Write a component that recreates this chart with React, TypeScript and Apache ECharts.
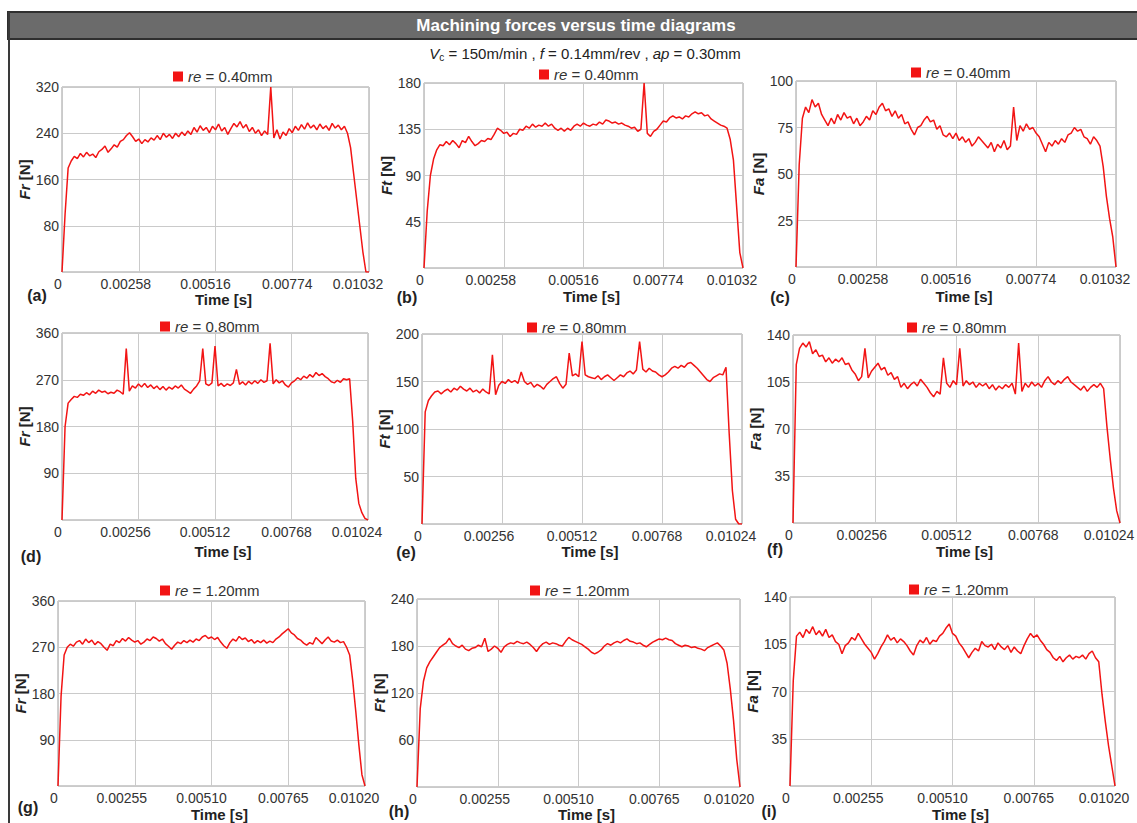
import React, { useEffect, useRef } from 'react';
import * as echarts from 'echarts';

const W = 1137;
const H = 823;

// ---------- Data ----------
// Sample values, evenly spaced in time from 0 to the last time tick.
const FR_040 = [0,100,180,192,200,196,205,199,207,201,
  204,198,208,212,218,207,213,220,216,226,
  229,236,241,234,226,230,222,229,225,232,
  228,236,229,240,233,238,231,240,234,242,
  236,244,238,250,242,253,245,250,241,252,
  246,256,244,250,238,248,257,251,260,249,
  255,243,250,240,246,236,244,238,320,232,
  246,230,242,236,248,241,252,245,255,247,
  258,249,254,246,256,248,253,245,257,249,
  254,246,252,240,215,170,125,80,35,0,
  0];
const FT_040 = [0,55,90,106,115,120,119,123,120,124,
  121,117,124,122,128,123,119,121,124,123,
  126,125,130,136,134,131,132,128,131,130,
  135,134,138,136,140,137,139,138,141,138,
  140,136,134,136,133,136,134,138,140,138,
  141,139,138,140,139,142,140,144,143,141,
  142,140,141,139,138,136,137,133,135,180,
  131,128,133,135,139,143,142,146,148,146,
  147,145,148,147,150,152,150,151,148,149,
  145,143,141,139,138,136,125,105,60,15,
  0];
const FA_040 = [0,55,80,86,83,90,86,88,82,79,
  76,80,77,82,79,83,80,81,77,80,
  76,78,81,79,84,82,86,88,84,85,
  81,84,80,82,77,78,74,71,75,76,
  79,81,78,79,74,76,71,70,72,69,
  72,68,70,67,69,65,67,70,68,66,
  64,67,62,66,64,68,63,65,86,68,
  76,73,77,74,75,72,70,66,62,67,
  65,68,66,69,67,71,72,75,73,74,
  70,69,66,70,68,65,54,38,26,16,
  0];
const FR_080 = [0,180,225,232,238,236,242,240,245,241,
  248,244,250,246,248,243,246,244,250,247,
  242,330,248,258,254,262,256,263,255,260,
  253,258,251,257,250,256,252,258,254,260,
  252,248,244,252,258,268,330,262,259,264,
  335,258,263,257,262,259,264,290,261,266,
  260,267,262,268,263,270,265,268,340,262,
  270,264,268,260,256,264,268,274,270,277,
  273,280,275,284,278,282,276,272,266,264,
  269,265,272,270,272,190,80,32,14,3,
  0];
const FT_080 = [0,118,130,135,139,140,137,140,142,139,
  143,141,145,142,140,143,139,141,138,142,
  139,137,178,136,146,150,148,152,149,151,
  148,160,150,147,149,144,147,145,142,147,
  150,153,155,148,143,147,180,156,158,155,
  192,157,155,154,153,156,152,155,157,154,
  151,154,157,155,159,161,158,162,192,163,
  160,164,161,160,157,155,157,160,164,166,
  164,167,165,169,170,167,164,160,156,152,
  150,154,156,158,157,165,95,35,5,0,
  0];
const FA_080 = [0,118,130,134,131,135,126,129,124,125,
  120,123,119,122,120,123,118,119,114,111,
  106,109,130,108,113,116,119,114,116,110,
  112,107,109,101,104,100,103,105,102,107,
  104,101,97,94,98,96,123,104,101,106,
  103,130,102,106,103,105,101,104,102,104,
  100,103,99,102,100,103,101,104,96,134,
  98,104,101,105,102,104,101,106,109,105,
  103,106,104,107,109,105,103,101,99,102,
  98,101,103,101,104,100,72,48,26,9,
  0];
const FR_120 = [0,175,255,270,276,272,280,283,276,286,
  279,284,275,281,277,270,264,276,273,283,
  279,287,282,289,284,280,283,276,280,286,
  283,290,287,282,286,277,272,266,274,280,
  277,283,279,284,280,286,283,290,293,287,
  290,285,289,280,273,268,279,286,282,291,
  285,288,281,285,278,283,279,284,278,282,
  279,286,290,296,301,306,298,294,287,284,
  278,274,279,276,289,283,277,284,290,282,
  280,284,279,281,270,255,205,145,80,22,
  0];
const FT_120 = [0,100,135,152,160,166,172,178,181,184,
  190,183,180,178,181,176,174,177,178,181,
  179,190,173,176,180,177,172,179,182,184,
  183,186,184,183,185,182,178,173,179,183,
  185,182,184,183,181,180,186,191,188,186,
  184,182,179,176,172,170,172,175,180,183,
  181,184,186,184,187,189,186,185,183,184,
  181,179,182,185,187,189,188,190,188,187,
  183,181,179,181,180,178,179,177,176,174,
  178,180,182,184,180,175,158,125,85,35,
  0];
const FA_120 = [0,78,111,114,110,116,113,118,112,115,
  111,116,110,112,107,105,98,104,106,110,
  108,113,109,105,102,99,94,98,103,107,
  112,108,110,106,109,107,104,100,97,104,
  108,106,110,105,108,107,111,113,117,120,
  113,111,106,103,99,95,99,102,100,107,
  104,103,105,101,106,103,101,104,99,103,
  100,98,104,109,113,110,112,108,105,101,
  99,95,93,96,92,95,97,94,96,95,
  97,94,98,100,95,92,68,48,30,15,
  0];

// Tick values and labels
const TIME_TICKS_040 = [0, 0.00258, 0.00516, 0.00774, 0.01032];
const TIME_TICKS_080 = [0, 0.00256, 0.00512, 0.00768, 0.01024];
const TIME_TICKS_120 = [0, 0.00255, 0.0051, 0.00765, 0.0102];
const TIME_LABELS_040 = ['0', '0.00258', '0.00516', '0.00774', '0.01032'];
const TIME_LABELS_080 = ['0', '0.00256', '0.00512', '0.00768', '0.01024'];
const TIME_LABELS_120 = ['0', '0.00255', '0.00510', '0.00765', '0.01020'];

const FR_TICKS_040 = [0, 80, 160, 240, 320];
const FT_TICKS_040 = [0, 45, 90, 135, 180];
const FA_TICKS_040 = [0, 25, 50, 75, 100];
const FR_TICKS_080 = [0, 90, 180, 270, 360];
const FT_TICKS_080 = [0, 50, 100, 150, 200];
const FA_TICKS_080 = [0, 35, 70, 105, 140];
const FR_TICKS_120 = [0, 90, 180, 270, 360];
const FT_TICKS_120 = [0, 60, 120, 180, 240];
const FA_TICKS_120 = [0, 35, 70, 105, 140];

const RADIUS_LABELS = ['re = 0.40mm', 're = 0.80mm', 're = 1.20mm'];
const FORCE_NAMES = ['Fr', 'Ft', 'Fa'];
const PANEL_LETTERS = ['(a)', '(b)', '(c)', '(d)', '(e)', '(f)', '(g)', '(h)', '(i)'];
const TITLE = 'Machining forces versus time diagrams';
const SUBTITLE = '{i|V}{s|c} = 150m/min , {i|f} = 0.14mm/rev , {i|ap} = 0.30mm';
const X_NAME = 'Time [s]';

const SERIES_VALUES = [FR_040, FT_040, FA_040, FR_080, FT_080, FA_080, FR_120, FT_120, FA_120];
const Y_TICKS = [FR_TICKS_040, FT_TICKS_040, FA_TICKS_040, FR_TICKS_080, FT_TICKS_080, FA_TICKS_080, FR_TICKS_120, FT_TICKS_120, FA_TICKS_120];
const X_TICKS = [TIME_TICKS_040, TIME_TICKS_080, TIME_TICKS_120];
const X_LABELS = [TIME_LABELS_040, TIME_LABELS_080, TIME_LABELS_120];

// ---------- Layout ----------
const LAYOUT = [
  { l: 62, t: 87, w: 307, h: 185, legX: 173, legY: 78, yGap: 24, xGap: 17, lab: [37, 295] },
  { l: 424, t: 83, w: 319, h: 185, legX: 539, legY: 76, yGap: 23, xGap: 21, lab: [407, 297] },
  { l: 796, t: 81, w: 320, h: 186, legX: 911, legY: 74, yGap: 21, xGap: 22, lab: [780, 297] },
  { l: 62, t: 333, w: 306, h: 187, legX: 160, legY: 328, yGap: 26, xGap: 24, lab: [31, 556] },
  { l: 422, t: 334, w: 320, h: 190, legX: 527, legY: 329, yGap: 29, xGap: 20, lab: [406, 552] },
  { l: 793, t: 335, w: 327, h: 188, legX: 907, legY: 329, yGap: 23, xGap: 21, lab: [775, 549] },
  { l: 58, t: 601, w: 307, h: 185, legX: 160, legY: 592, yGap: 25, xGap: 21, lab: [28, 807] },
  { l: 417, t: 599, w: 323, h: 188, legX: 530, legY: 592, yGap: 26, xGap: 20, lab: [399, 811] },
  { l: 790, t: 597, w: 325, h: 189, legX: 909, legY: 591, yGap: 20, xGap: 21, lab: [769, 811] },
];
// leftward offset (px) of each x tick label relative to its grid line
const X_LABEL_SHIFT = [4, 13, 10, 5, 11];

const RED = '#f21414';
const FONT = '"Liberation Sans", Arial, sans-serif';

function buildOption() {
  const grid: any[] = [];
  const xAxis: any[] = [];
  const yAxis: any[] = [];
  const series: any[] = [];
  const legend: any[] = [];
  const graphic: any[] = [];

  const xRich: any = {};
  X_LABEL_SHIFT.forEach((s, k) => {
    xRich['r' + k] = { fontSize: 14, color: '#333', fontFamily: FONT, padding: [0, 2 * s, 0, 0] };
  });

  for (let i = 0; i < 9; i++) {
    const row = Math.floor(i / 3);
    const col = i % 3;
    const L = LAYOUT[i];
    const xt = X_TICKS[row];
    const xl = X_LABELS[row];
    const yt = Y_TICKS[i];
    const name = RADIUS_LABELS[row];

    grid.push({
      left: L.l, top: L.t, width: L.w, height: L.h, outerBoundsMode: 'none',
      show: true, borderColor: '#9c9c9c', borderWidth: 1, backgroundColor: '#fff',
    });
    xAxis.push({
      type: 'value', gridIndex: i,
      min: xt[0], max: xt[xt.length - 1], interval: xt[1] - xt[0],
      axisLine: { show: false }, axisTick: { show: false },
      splitLine: { show: true, lineStyle: { color: '#cacaca', width: 1 } },
      axisLabel: {
        color: '#333', fontSize: 14, margin: 5, fontFamily: FONT,
        showMinLabel: true, showMaxLabel: true, rich: xRich,
        formatter: (v: number) => {
          const k = xt.findIndex((t) => Math.abs(t - v) < 1e-9);
          return k >= 0 ? '{r' + k + '|' + xl[k] + '}' : '';
        },
      },
      name: X_NAME, nameLocation: 'middle', nameGap: L.xGap,
      nameTextStyle: { fontWeight: 'bold', fontSize: 15, color: '#222', fontFamily: FONT, padding: [0, 0, 0, 16] },
    });
    yAxis.push({
      type: 'value', gridIndex: i,
      min: yt[0], max: yt[yt.length - 1], interval: yt[1] - yt[0],
      axisLine: { show: false }, axisTick: { show: false },
      splitLine: { show: true, lineStyle: { color: '#cacaca', width: 1 } },
      axisLabel: { color: '#333', fontSize: 14, margin: 3, fontFamily: FONT, showMinLabel: false },
      name: '{i|' + FORCE_NAMES[col] + '} [N]', nameLocation: 'middle', nameGap: L.yGap,
      nameTextStyle: {
        fontWeight: 'bold', fontSize: 15, color: '#222', fontFamily: FONT,
        rich: { i: { fontStyle: 'italic', fontWeight: 'bold', fontSize: 15, color: '#222', fontFamily: FONT } },
      },
    });
    const vals = SERIES_VALUES[i];
    const tEnd = xt[xt.length - 1];
    series.push({
      type: 'line', name, xAxisIndex: i, yAxisIndex: i,
      data: vals.map((v, k) => [(tEnd * k) / (vals.length - 1), v]),
      showSymbol: false, symbol: 'none', silent: true,
      lineStyle: { color: RED, width: 1.5 }, itemStyle: { color: RED },
    });
    legend.push({
      data: [name], left: L.legX, top: L.legY - 9, padding: 0,
      icon: 'rect', itemWidth: 10, itemHeight: 10, selectedMode: false,
      formatter: (n: string) => n.replace('re', '{i|re}'),
      textStyle: {
        fontSize: 15, color: '#333', fontFamily: FONT,
        rich: { i: { fontStyle: 'italic', fontSize: 15, color: '#333', fontFamily: FONT } },
      },
    });
    graphic.push({
      type: 'text', x: L.lab[0], y: L.lab[1],
      style: {
        text: PANEL_LETTERS[i], fill: '#222', fontSize: 16, fontWeight: 'bold', fontFamily: FONT,
        align: 'center', verticalAlign: 'middle', textAlign: 'center', textVerticalAlign: 'middle',
      },
    });
  }

  graphic.unshift(
    {
      type: 'rect', shape: { x: 8, y: 12, width: 1135, height: 27 },
      style: { fill: '#6b6b6b', stroke: '#2f2f2f', lineWidth: 2 },
    },
    {
      type: 'line', shape: { x1: 9, y1: 12, x2: 9, y2: 830 },
      style: { stroke: '#3a3a3a', lineWidth: 2 },
    },
    {
      type: 'text', x: 576, y: 25,
      style: {
        text: TITLE, fill: '#fff', fontSize: 17, fontWeight: 'bold', fontFamily: FONT,
        align: 'center', verticalAlign: 'middle', textAlign: 'center', textVerticalAlign: 'middle',
      },
    },
    {
      type: 'text', x: 585, y: 53,
      style: {
        text: SUBTITLE, fill: '#222', fontSize: 15, fontFamily: FONT,
        align: 'center', verticalAlign: 'middle', textAlign: 'center', textVerticalAlign: 'middle',
        rich: {
          i: { fontStyle: 'italic', fontSize: 15, fill: '#222', fontFamily: FONT, lineHeight: 18 },
          s: { fontSize: 10, fill: '#222', fontFamily: FONT, verticalAlign: 'bottom', lineHeight: 18 },
        },
      },
    }
  );

  return {
    animation: false,
    backgroundColor: '#fff',
    textStyle: { fontFamily: FONT },
    grid, xAxis, yAxis, series, legend, graphic,
  };
}

export default function App() {
  const ref = useRef<HTMLDivElement>(null);
  useEffect(() => {
    if (!ref.current) return;
    const chart = echarts.init(ref.current, null, { renderer: 'svg' });
    chart.setOption(buildOption() as any);
    return () => chart.dispose();
  }, []);
  return (
    <div
      ref={ref}
      style={{ position: 'absolute', left: 0, top: 0, width: W, height: H, background: '#fff' }}
    />
  );
}
